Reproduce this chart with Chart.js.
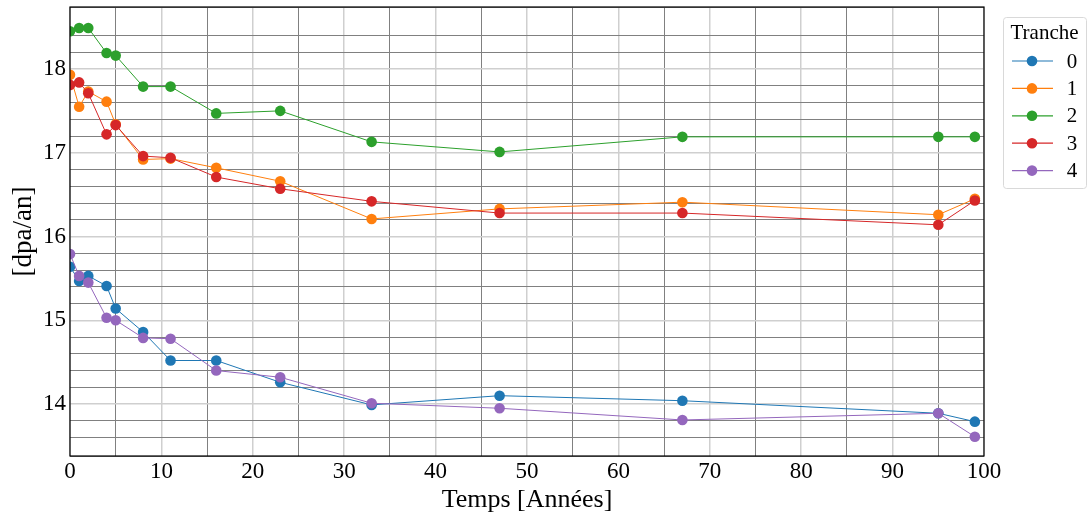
<!DOCTYPE html>
<html>
<head>
<meta charset="utf-8">
<script src="https://cdn.jsdelivr.net/npm/chart.js@4"></script>
<style>
  html, body { margin: 0; padding: 0; background: #fff; }
  #wrap { width: 1089px; height: 519px; }
</style>
</head>
<body>
<div id="wrap"><canvas id="dpaChart" width="1089" height="519"></canvas></div>
<script>
// temps (années) et valeurs par tranche
const years = [0, 1, 2, 4, 5, 8, 11, 16, 23, 33, 47, 67, 95, 99];
const tranche0 = [15.64, 15.47, 15.53, 15.41, 15.14, 14.86, 14.52, 14.52, 14.26, 13.99, 14.10, 14.04, 13.89, 13.79];
const tranche1 = [17.93, 17.55, 17.73, 17.61, 17.34, 16.92, 16.93, 16.82, 16.66, 16.21, 16.33, 16.41, 16.26, 16.45];
const tranche2 = [18.45, 18.49, 18.49, 18.19, 18.16, 17.79, 17.79, 17.47, 17.50, 17.13, 17.01, 17.19, 17.19, 17.19];
const tranche3 = [17.81, 17.84, 17.71, 17.22, 17.33, 16.96, 16.94, 16.71, 16.57, 16.42, 16.28, 16.28, 16.14, 16.43];
const tranche4 = [15.79, 15.53, 15.45, 15.03, 15.00, 14.79, 14.78, 14.40, 14.32, 14.01, 13.95, 13.81, 13.89, 13.61];
const trancheNames = ['0', '1', '2', '3', '4'];
const trancheColors = ['#1f77b4', '#ff7f0e', '#2ca02c', '#d62728', '#9467bd'];

const FONT = "'Liberation Serif', 'DejaVu Serif', serif";

const series = [tranche0, tranche1, tranche2, tranche3, tranche4];
const datasets = series.map(function(vals, i) {
    return {
        label: trancheNames[i],
        data: years.map(function(x, j) { return { x: x, y: vals[j] }; }),
        borderColor: trancheColors[i],
        backgroundColor: trancheColors[i],
        borderWidth: 1,
        pointRadius: 5.3,
        pointHoverRadius: 5.3,
        pointBorderWidth: 0,
        tension: 0,
        order: 5 - i   // last tranche on top, like matplotlib
    };
});

// frame around the plot area
const framePlugin = {
    id: 'frame',
    afterDatasetsDraw: function(chart) {
        const a = chart.chartArea;
        const c = chart.ctx;
        c.save();
        c.strokeStyle = '#000';
        c.lineWidth = 1.2;
        c.strokeRect(a.left, a.top, a.right - a.left, a.bottom - a.top);
        c.restore();
    }
};

// matplotlib-like legend box with line + marker
const legendPlugin = {
    id: 'boxLegend',
    afterDraw: function(chart) {
        const c = chart.ctx;
        const x0 = 1003, y0 = 17, w = 83, h = 171;
        c.save();
        c.fillStyle = 'rgba(255,255,255,0.8)';
        c.strokeStyle = '#d9d9d9';
        c.lineWidth = 1;
        c.beginPath();
        c.roundRect(x0 + 0.5, y0 + 0.5, w, h, 3);
        c.fill();
        c.stroke();
        c.fillStyle = '#000';
        c.font = '21px ' + FONT;
        c.textAlign = 'center';
        c.textBaseline = 'middle';
        c.fillText('Tranche', x0 + w / 2, y0 + 16);
        chart.data.datasets.forEach(function(ds, i) {
            const y = 61 + i * 27.4;
            c.strokeStyle = ds.borderColor;
            c.lineWidth = 1.2;
            c.beginPath();
            c.moveTo(1012, y);
            c.lineTo(1053, y);
            c.stroke();
            c.fillStyle = ds.backgroundColor;
            c.beginPath();
            c.arc(1032, y, 5.3, 0, Math.PI * 2);
            c.fill();
            c.fillStyle = '#000';
            c.fillText(ds.label, 1072, y + 1);
        });
        c.restore();
    }
};

function gridColor(ctx, step) {
    const v = ctx.tick ? ctx.tick.value : 0;
    return Math.abs(v / step - Math.round(v / step)) < 1e-6 ? '#cfcfcf' : '#808080';
}

new Chart(document.getElementById('dpaChart'), {
    type: 'line',
    data: { datasets: datasets },
    options: {
        responsive: false,
        animation: false,
        events: [],
        layout: { padding: { left: 0, right: 105, top: 7, bottom: 0 } },
        plugins: {
            legend: { display: false },
            tooltip: { enabled: false }
        },
        scales: {
            x: {
                type: 'linear',
                min: 0,
                max: 100,
                afterFit: function(scale) {
                    scale.height = 63;
                    scale.paddingLeft = 0;
                    scale.paddingRight = 0;
                },
                ticks: {
                    stepSize: 5,
                    autoSkip: false,
                    maxRotation: 0,
                    padding: 2,
                    color: '#000',
                    font: { family: FONT, size: 23 },
                    callback: function(v) { return v % 10 === 0 ? v : ''; }
                },
                grid: {
                    drawTicks: false,
                    color: function(ctx) { return gridColor(ctx, 10); },
                    lineWidth: function(ctx) { return gridColor(ctx, 10) === '#cfcfcf' ? 1.5 : 1; }
                },
                border: { display: false },
                title: {
                    display: true,
                    text: 'Temps [Années]',
                    color: '#000',
                    padding: { top: 0, bottom: 3 },
                    font: { family: FONT, size: 26 }
                }
            },
            y: {
                min: 13.38,
                max: 18.74,
                afterFit: function(scale) {
                    scale.width = 70;
                    scale.paddingTop = 0;
                    scale.paddingBottom = 0;
                },
                ticks: {
                    stepSize: 0.2,
                    autoSkip: false,
                    padding: 4,
                    color: '#000',
                    font: { family: FONT, size: 23 },
                    callback: function(v) {
                        return Math.abs(v - Math.round(v)) < 1e-6 ? Math.round(v) : '';
                    }
                },
                grid: {
                    drawTicks: false,
                    color: function(ctx) { return gridColor(ctx, 1); },
                    lineWidth: function(ctx) { return gridColor(ctx, 1) === '#cfcfcf' ? 1.5 : 1; }
                },
                border: { display: false },
                title: {
                    display: true,
                    text: '[dpa/an]',
                    color: '#000',
                    padding: { top: 8, bottom: 0 },
                    font: { family: FONT, size: 27 }
                }
            }
        }
    },
    plugins: [framePlugin, legendPlugin]
});
</script>
</body>
</html>
